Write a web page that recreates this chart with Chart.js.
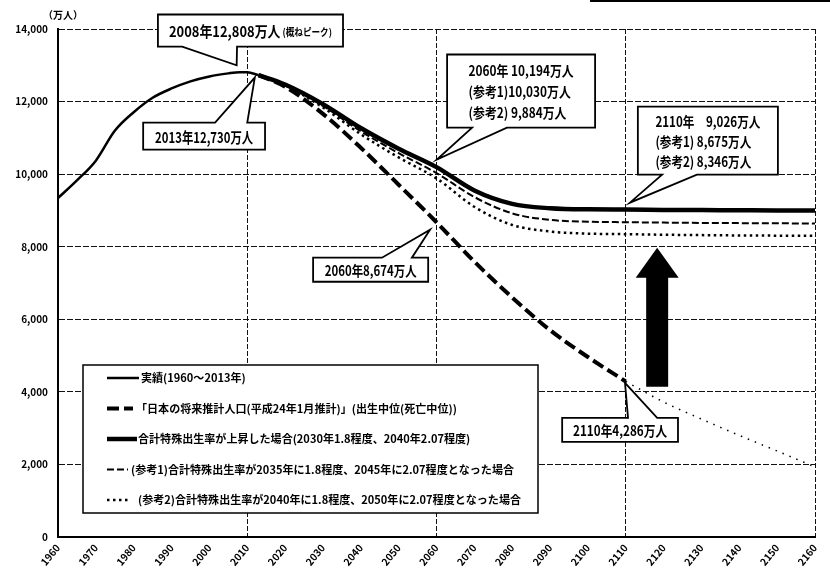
<!DOCTYPE html>
<html lang="ja">
<head>
<meta charset="utf-8">
<title>総人口の推移と長期的な見通し</title>
<script src="https://cdn.jsdelivr.net/npm/chart.js@4.4.1/dist/chart.umd.min.js"></script>
<style>
  html, body { margin:0; padding:0; background:#fff; }
  #wrap { position:relative; width:830px; height:575px; }
  #topline { position:absolute; left:590px; top:0; width:240px; height:2px; background:#000; }
</style>
</head>
<body>
<div id="wrap">
  <canvas id="chart" width="830" height="575"></canvas>
  <div id="topline"></div>
</div>
<script>
// Datos (万人)
const actualYears = [1960,1965,1970,1975,1980,1985,1990,1995,2000,2005,2008,2010,2013];
const actualPop   = [9342,9828,10372,11194,11706,12105,12361,12557,12693,12777,12808,12806,12730];

const projYears = [2013,2020,2030,2040,2050,2060,2070,2080,2090,2100,2110];
const projPop   = [12730,12410,11662,10728,9708,8674,7590,6600,5700,4960,4286];
const extYears  = [2110,2120,2130,2140,2150,2160];
const extPop    = [4286,3720,3250,2800,2370,1930];

const futureYears = [2013,2020,2030,2040,2050,2060,2070,2080,2090,2100,2110,2120,2130,2140,2150,2160];
const risePop = [12730,12470,11930,11270,10700,10194,9550,9180,9060,9030,9026,9015,9010,9005,9000,9000];
const ref1Pop = [12730,12460,11880,11180,10580,10030,9370,8920,8740,8690,8675,8665,8655,8650,8645,8640];
const ref2Pop = [12730,12450,11840,11100,10460,9884,9100,8600,8420,8360,8346,8330,8320,8310,8305,8300];

const yearTicks  = [1960,1970,1980,1990,2000,2010,2020,2030,2040,2050,2060,2070,2080,2090,2100,2110,2120,2130,2140,2150,2160];
const valueTicks = [0,2000,4000,6000,8000,10000,12000,14000];
const gridYears  = [2010,2060,2110,2160];

const labels = [
  '実績(1960～2013年)',
  '「日本の将来推計人口(平成24年1月推計)」(出生中位(死亡中位))',
  '合計特殊出生率が上昇した場合(2030年1.8程度、2040年2.07程度)',
  '(参考1)合計特殊出生率が2035年に1.8程度、2045年に2.07程度となった場合',
  '(参考2)合計特殊出生率が2040年に1.8程度、2050年に2.07程度となった場合'
];

// Globos de texto: caja, base de la cola y punta en unidades de datos
const callouts = [
  { lines:[[['2008年12,808万人',15],[' (概ねピーク)',10]]], box:[1986.4,2035.3,14400,13517], edge:'bottom', base:[1992.8,2007.3], tip:[2007.2,13000], w:163, lh:20 },
  { lines:[[['2013年12,730万人',15]]], box:[1982.5,2014.7,11420,10676], edge:'top', base:[2001.5,2010.0], tip:[2012.0,12662], w:98, lh:20 },
  { lines:[[['2060年 10,194万人',14]],[['(参考1)10,030万人',14]],[['(参考2) 9,884万人',14]]], box:[2062.8,2101.9,13297,11283], edge:'bottom', base:[2069.4,2078.6], tip:[2060.1,10400], w:105, lh:21 },
  { lines:[[['2110年　9,026万人',14]],[['(参考1) 8,675万人',14]],[['(参考2) 8,346万人',14]]], box:[2113.2,2150.2,11862,9986], edge:'bottom', base:[2119.6,2128.8], tip:[2111.1,9214], w:105, lh:20 },
  { lines:[[['2060年8,674万人',14]]], box:[2027.4,2057.8,7697,7034], edge:'top', base:[2045.6,2053.5], tip:[2058.3,8469], w:92, lh:20 },
  { lines:[[['2110年4,286万人',14]]], box:[2093.2,2123.8,3283,2621], edge:'top', base:[2110.6,2118.3], tip:[2109.8,4248], w:94, lh:20 }
];
const arrow = { year:2118.3, from:4138, head:7145, to:7972 };

const FONT = '"Noto Sans CJK JP", "Noto Sans", sans-serif';
const pts = (xs, ys) => xs.map((x, i) => ({ x, y: ys[i] }));

const datasets = [
  { label: labels[0], data: pts(actualYears, actualPop), borderWidth: 2.5, borderDash: [] },
  { label: labels[1], data: pts(projYears, projPop), borderWidth: 4, borderDash: [12,5] },
  { label: '', data: pts(extYears, extPop), borderWidth: 1.5, borderDash: [1.5,6] },
  { label: labels[4], data: pts(futureYears, ref2Pop), borderWidth: 2.5, borderDash: [2.5,3.5] },
  { label: labels[3], data: pts(futureYears, ref1Pop), borderWidth: 2, borderDash: [7,3] },
  { label: labels[2], data: pts(futureYears, risePop), borderWidth: 4.5, borderDash: [] }
];
const legendOrder = [0,1,5,4,3];

const annotate = {
  id: 'annotate',
  afterDraw(chart) {
    const { ctx, chartArea: ca, scales: { x, y } } = chart;
    ctx.save();
    ctx.fillStyle = '#000';
    ctx.font = 'bold 10px ' + FONT;
    ctx.textAlign = 'center';
    ctx.textBaseline = 'middle';
    ctx.fillText('（万人）', ca.left + 5, ca.top - 14);

    // flecha
    const ax = x.getPixelForValue(arrow.year);
    const yb = y.getPixelForValue(arrow.from), yh = y.getPixelForValue(arrow.head), yt = y.getPixelForValue(arrow.to);
    ctx.beginPath();
    ctx.moveTo(ax - 11, yb); ctx.lineTo(ax - 11, yh); ctx.lineTo(ax - 21.5, yh); ctx.lineTo(ax, yt);
    ctx.lineTo(ax + 21.5, yh); ctx.lineTo(ax + 11, yh); ctx.lineTo(ax + 11, yb);
    ctx.closePath();
    ctx.fill();

    // globos
    callouts.forEach(c => {
      const x0 = x.getPixelForValue(c.box[0]), x1 = x.getPixelForValue(c.box[1]);
      const t = y.getPixelForValue(c.box[2]), b = y.getPixelForValue(c.box[3]);
      const b0 = x.getPixelForValue(c.base[0]), b1 = x.getPixelForValue(c.base[1]);
      const tx = x.getPixelForValue(c.tip[0]), ty = y.getPixelForValue(c.tip[1]);
      ctx.beginPath();
      if (c.edge === 'bottom') {
        ctx.moveTo(x0, t); ctx.lineTo(x1, t); ctx.lineTo(x1, b); ctx.lineTo(b1, b);
        ctx.lineTo(tx, ty); ctx.lineTo(b0, b); ctx.lineTo(x0, b);
      } else {
        ctx.moveTo(x0, b); ctx.lineTo(x0, t); ctx.lineTo(b0, t); ctx.lineTo(tx, ty);
        ctx.lineTo(b1, t); ctx.lineTo(x1, t); ctx.lineTo(x1, b);
      }
      ctx.closePath();
      ctx.fillStyle = '#fff'; ctx.fill();
      ctx.setLineDash([]); ctx.lineWidth = 1.8; ctx.strokeStyle = '#000'; ctx.lineJoin = 'miter'; ctx.stroke();

      const widths = c.lines.map(line => line.reduce((s, [txt, sz]) => {
        ctx.font = 'bold ' + sz + 'px ' + FONT; return s + ctx.measureText(txt).width;
      }, 0));
      const maxW = Math.max(...widths);
      const k = c.w / maxW;
      const left = (x0 + x1) / 2 - c.w / 2;
      const cy = (t + b) / 2 - (c.lines.length - 1) * c.lh / 2;
      ctx.fillStyle = '#000'; ctx.textAlign = 'left'; ctx.textBaseline = 'middle';
      c.lines.forEach((line, i) => {
        ctx.save();
        ctx.translate(left, cy + i * c.lh + 1);
        ctx.scale(k, 1);
        let px = 0;
        line.forEach(([txt, sz]) => {
          ctx.font = 'bold ' + sz + 'px ' + FONT;
          ctx.fillText(txt, px, sz < 12 ? 1 : 0);
          px += ctx.measureText(txt).width;
        });
        ctx.restore();
      });
    });

    // leyenda
    const lx = ca.left + 25, ly = ca.bottom - 172, lw = 455, lh = 148;
    ctx.fillStyle = '#fff';
    ctx.fillRect(lx, ly, lw, lh);
    ctx.setLineDash([]); ctx.lineWidth = 1.5; ctx.strokeStyle = '#000';
    ctx.strokeRect(lx, ly, lw, lh);
    const sampleLen = [32, 26, 30, 21, 22];
    const gap = [2, 3, 1, 3, 9];
    ctx.font = 'bold 11px ' + FONT;
    const k = 383 / ctx.measureText(labels[3]).width;
    legendOrder.forEach((di, i) => {
      const ds = datasets[di];
      const ry = ly + 13 + i * 30.5;
      const sx = lx + 24;
      ctx.beginPath();
      ctx.setLineDash(ds.borderDash);
      ctx.lineWidth = ds.borderWidth;
      ctx.moveTo(sx, ry); ctx.lineTo(sx + sampleLen[i], ry);
      ctx.stroke();
      ctx.setLineDash([]);
      ctx.save();
      ctx.translate(sx + sampleLen[i] + gap[i], ry);
      ctx.scale(k, 1);
      ctx.fillStyle = '#000'; ctx.textAlign = 'left'; ctx.textBaseline = 'middle';
      ctx.fillText(ds.label, 0, 0);
      ctx.restore();
    });
    ctx.restore();
  }
};

new Chart(document.getElementById('chart'), {
  type: 'line',
  data: { datasets },
  options: {
    responsive: false,
    animation: false,
    layout: { padding: { top: 29, right: 15, left: 0, bottom: 0 } },
    plugins: { legend: { display: false }, tooltip: { enabled: false } },
    elements: {
      point: { radius: 0 },
      line: { cubicInterpolationMode: 'monotone', borderColor: '#000', fill: false, borderCapStyle: 'butt' }
    },
    scales: {
      x: {
        type: 'linear', min: 1960, max: 2160,
        afterBuildTicks: s => { s.ticks = yearTicks.map(v => ({ value: v })); },
        afterFit: s => { s.height = 38; },
        ticks: { autoSkip: false, minRotation: 50, maxRotation: 50, padding: 5, color: '#000',
                 font: { family: FONT, size: 10, weight: 'bold' }, callback: v => String(v) },
        grid: { drawTicks: false, lineWidth: 1,
                color: c => (c.tick && gridYears.includes(c.tick.value)) ? '#111' : 'rgba(0,0,0,0)' },
        border: { display: true, color: '#000', width: 2, dash: [5,2] }
      },
      y: {
        min: 0, max: 14000,
        afterBuildTicks: s => { s.ticks = valueTicks.map(v => ({ value: v })); },
        afterFit: s => { s.width = 58; },
        ticks: { padding: 10, color: '#000', font: { family: FONT, size: 10, weight: 'bold' },
                 callback: v => v.toLocaleString('en-US') },
        grid: { drawTicks: false, lineWidth: 1, color: '#111' },
        border: { display: true, color: '#000', width: 2, dash: [6,2] }
      }
    }
  },
  plugins: [annotate]
});
</script>
</body>
</html>
